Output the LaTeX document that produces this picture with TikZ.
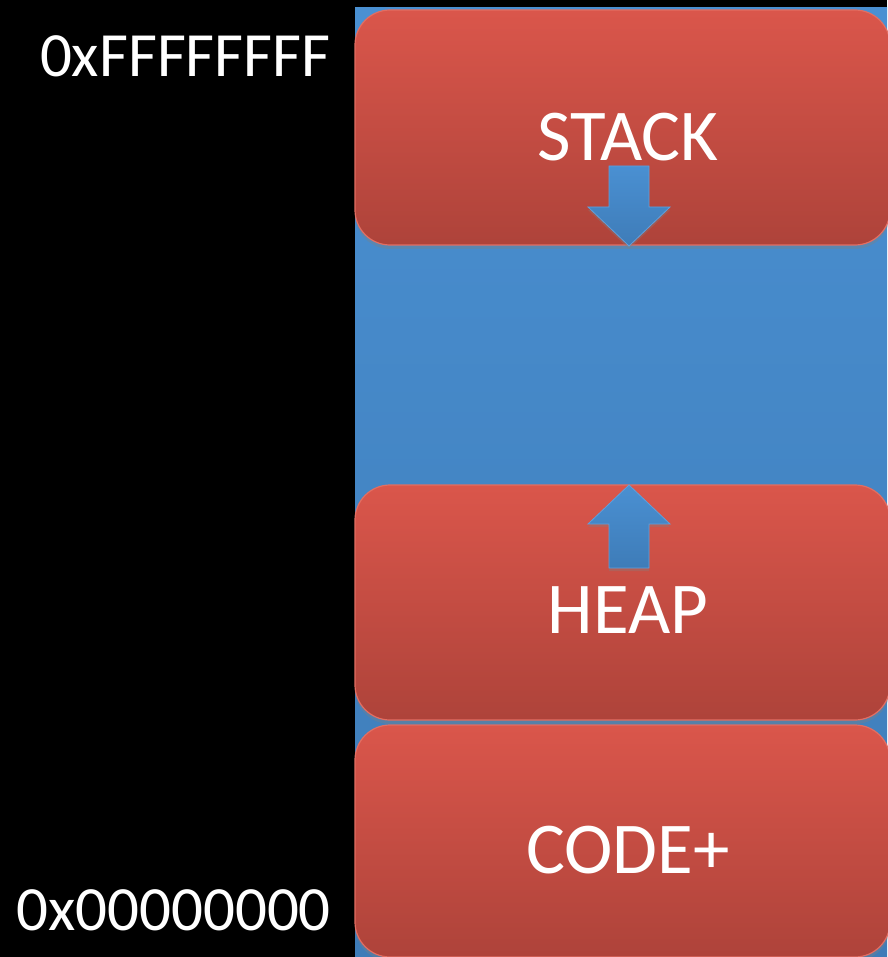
\documentclass[tikz,border=0pt]{standalone}
\usepackage{fontspec}
\setmainfont{Carlito}
\usetikzlibrary{shadows}
\definecolor{redtop}{RGB}{218,86,75}
\definecolor{redbot}{RGB}{174,67,58}
\definecolor{redline}{RGB}{226,110,98}
\definecolor{bluetop}{RGB}{74,144,210}
\definecolor{bluebot}{RGB}{62,124,184}
\definecolor{arrline}{RGB}{96,160,220}
\tikzset{
  seg/.style={rounded corners=35pt, top color=redtop, bottom color=redbot,
    draw=redline, line width=1.2pt,
    drop shadow={shadow xshift=0pt, shadow yshift=-4pt, opacity=0.35}},
  lbl/.style={text=white, font=\fontsize{73}{80}\selectfont, inner sep=0pt},
  addr/.style={text=white, font=\fontsize{63}{70}\selectfont, inner sep=0pt, anchor=east},
  growarrow/.style={top color=bluetop, bottom color=bluebot, draw=arrline, line width=0.8pt,
    drop shadow={shadow xshift=0pt, shadow yshift=-3pt, opacity=0.35}}
}
\begin{document}
\begin{tikzpicture}[x=1pt,y=-1pt]
\useasboundingbox (0,0) rectangle (887,957);
\fill[black] (0,0) rectangle (887,957);
% blue column
\shade[top color=bluetop, bottom color=bluebot] (355,8) rectangle (887,957);
% segments
\path[seg] (355,10) rectangle (890,245);
\path[seg] (355,485) rectangle (890,720);
\path[seg] (355,725) rectangle (890,957);
\node[lbl] (stack) at (628,137) {STACK};
\node[lbl] (heap) at (628,610) {HEAP};
\node[lbl] (code) at (628,850) {CODE+};
% growth arrows
\path[growarrow] (609,166) -- (649,166) -- (649,207) -- (670,207) -- (629,246) -- (588,207) -- (609,207) -- cycle;
\path[growarrow] (629,485) -- (670,524) -- (649,524) -- (649,568) -- (609,568) -- (609,524) -- (588,524) -- cycle;
% addresses
\node[addr] (top) at (331,56) {0xFFFFFFFF};
\node[addr] (bot) at (331,910) {0x00000000};
\end{tikzpicture}
\end{document}
